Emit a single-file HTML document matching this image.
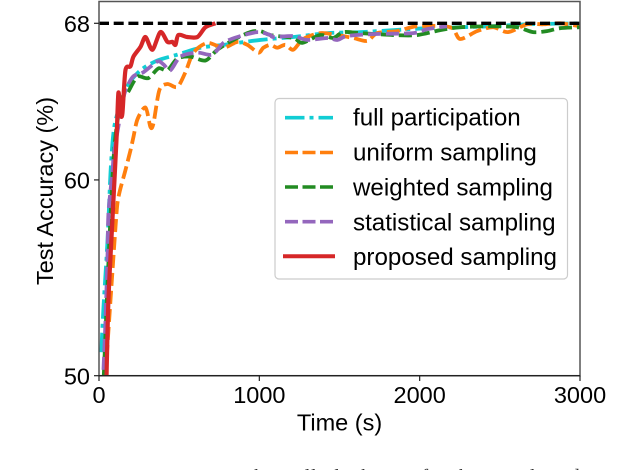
<!DOCTYPE html>
<html lang="en">
<head>
<meta charset="utf-8">
<title>Test accuracy over time</title>
<style>
html,body{margin:0;padding:0;background:#fff;}
body{width:634px;height:470px;overflow:hidden;}
svg{display:block;font-family:"Liberation Sans",Arial,sans-serif;}
text{fill:#000;}
</style>
</head>
<body>
<svg id="chart" width="634" height="470" viewBox="0 0 634 470" xmlns="http://www.w3.org/2000/svg">
  <defs><clipPath id="plot-clip"><rect x="99" y="2" width="481" height="374"/></clipPath></defs>
  <g id="series-layer" clip-path="url(#plot-clip)"></g>
  <g id="axes-layer">
    <rect x="99" y="1.5" width="481" height="374.2" fill="none" stroke="#555" stroke-width="1.5"/>
    <line x1="99" x2="580" y1="375.7" y2="375.7" stroke="#222" stroke-width="1.3"/>
  </g>
  <text x="339.5" y="430.5" font-size="23.5" text-anchor="middle">Time (s)</text>
  <text transform="translate(53,191) rotate(-90)" font-size="23.5" text-anchor="middle">Test Accuracy (%)</text>
  <g>
    <rect x="275" y="98.5" width="292.5" height="180.5" rx="4" fill="#fff" fill-opacity="0.85" stroke="#ccc" stroke-width="1.2"/>
    <g>
      <line x1="285" x2="333" y1="117.7" y2="117.7" stroke="#12cdd4" stroke-width="3.6" stroke-dasharray="19.5 5 4 5"/>
      <text x="353" y="125.7" font-size="24.15">full participation</text>
    </g>
    <g>
      <line x1="285" x2="333" y1="152.5" y2="152.5" stroke="#ff7f0e" stroke-width="3.6" stroke-dasharray="13 4.5"/>
      <text x="353" y="160.7" font-size="24.15">uniform sampling</text>
    </g>
    <g>
      <line x1="285" x2="333" y1="187" y2="187" stroke="#228b22" stroke-width="3.6" stroke-dasharray="13 4.5"/>
      <text x="353" y="195.5" font-size="24.15">weighted sampling</text>
    </g>
    <g>
      <line x1="285" x2="333" y1="221.7" y2="221.7" stroke="#9467bd" stroke-width="3.6" stroke-dasharray="13 4.5"/>
      <text x="353" y="230.3" font-size="24.15">statistical sampling</text>
    </g>
    <g>
      <line x1="283" x2="335" y1="256.3" y2="256.3" stroke="#d62728" stroke-width="4"/>
      <text x="353" y="265" font-size="24.15">proposed sampling</text>
    </g>
  </g>
  <text x="0" y="483" font-size="20" style="fill:#333" font-family="Liberation Serif, serif" textLength="634">Fig. 4: Test accuracy versus the wall-clock time for the sampling designs</text>
</svg>
<script>
var xTicks = [0, 1000, 2000, 3000];
var yTicks = [50, 60, 68];
var referenceAccuracy = 68;

var fullTimes = [14,28,53,72,90,115,178,259,364,489,632,776,1006,1212,1424,1629,1835,2047,2252,2458,2670,3000];
var fullValues = [51.2,53.5,56.9,60.4,62.4,63.4,64.8,65.6,66.1,66.4,66.75,66.9,67.15,67.3,67.5,67.55,67.65,67.75,67.8,67.85,67.95,68];

var uniformTimes = [40,103,121,165,196,215,240,290,321,340,377,427,489,539,589,676,776,863,925,994,1025,1069,1112,1162,1212,1274,1380,1486,1586,1673,1735,1860,1984,2190,2252,2358,2458,2551,2670,2770,2875,3000];
var uniformValues = [50,57.6,59.1,60.5,61.5,62.2,63.1,63.7,62.7,62.9,64.6,64.9,64.75,65.5,66.5,67,66.75,67.05,66.9,66.5,66.75,66.9,66.75,66.9,66.65,67.2,67.5,67.4,67.25,67.1,67.5,67.6,67.85,67.8,67.2,67.6,67.8,67.55,67.95,67.95,68,67.85];

var weightedTimes = [30,60,90,115,150,178,215,246,308,371,427,489,570,664,738,838,944,1006,1069,1212,1268,1380,1461,1523,1629,1835,1984,2128,2252,2458,2607,2707,2794,2875,3000];
var weightedValues = [50,56,61,63,64.3,64.45,65,65.3,65.2,65.7,65.6,66.2,66.3,66.1,66.65,67.15,67.55,67.6,67.4,67.25,67,67.4,67.25,67.55,67.5,67.4,67.4,67.65,67.8,67.85,67.8,67.55,67.6,67.75,67.8];

var statisticalTimes = [28,40,53,59,84,96,153,178,215,277,364,402,445,508,614,707,776,863,988,1069,1087,1212,1299,1424,1486,1548,1710,1960,2047,2171];
var statisticalValues = [50.3,52.7,56.1,58.3,60.4,61.5,64.2,64.8,65.3,65.5,66.05,65.9,65.6,66.3,66.5,66.4,67,67.3,67.55,67.4,67.3,67.35,67.15,67.25,67.15,67.35,67.45,67.5,67.7,67.85];

var proposedTimes = [47,59,84,109,121,134,146,165,196,215,259,290,333,383,427,458,477,495,551,614,664,726];
var proposedValues = [50,53.9,58,62.05,64.45,63.4,63.4,65.6,65.8,66.3,66.8,67.3,66.65,67.55,67.05,67.05,66.9,67.4,67.3,67.3,67.8,68];

var NS = 'http://www.w3.org/2000/svg';
function xScale(t) { return 99 + (t / 3000) * 481; }
function yScale(v) { return 375.7 - ((v - 50) / 18) * 352.4; }

function smoothPath(times, values) {
  var pts = times.map(function (t, i) { return [xScale(t), yScale(values[i])]; });
  var d = 'M' + pts[0][0].toFixed(2) + ' ' + pts[0][1].toFixed(2);
  var k = 0.14;
  for (var i = 0; i < pts.length - 1; i++) {
    var p0 = pts[Math.max(i - 1, 0)];
    var p1 = pts[i];
    var p2 = pts[i + 1];
    var p3 = pts[Math.min(i + 2, pts.length - 1)];
    d += 'C' + (p1[0] + (p2[0] - p0[0]) * k).toFixed(2) + ' ' + (p1[1] + (p2[1] - p0[1]) * k).toFixed(2) +
         ' ' + (p2[0] - (p3[0] - p1[0]) * k).toFixed(2) + ' ' + (p2[1] - (p3[1] - p1[1]) * k).toFixed(2) +
         ' ' + p2[0].toFixed(2) + ' ' + p2[1].toFixed(2);
  }
  return d;
}

var seriesLayer = document.getElementById('series-layer');
function addSeries(name, times, values, color, width, dash) {
  var el = document.createElementNS(NS, 'path');
  
  
  el.setAttribute('d', smoothPath(times, values));
  el.setAttribute('fill', 'none');
  el.setAttribute('stroke', color);
  el.setAttribute('stroke-width', width);
  el.setAttribute('stroke-linejoin', 'round');
  if (dash) { el.setAttribute('stroke-dasharray', dash); }
  seriesLayer.appendChild(el);
}
addSeries('series-full-participation', fullTimes, fullValues, '#12cdd4', 3.8, '19.5 5 4 5');
addSeries('series-uniform-sampling', uniformTimes, uniformValues, '#ff7f0e', 3.8, '13 5');
addSeries('series-weighted-sampling', weightedTimes, weightedValues, '#228b22', 3.8, '13 5');
addSeries('series-statistical-sampling', statisticalTimes, statisticalValues, '#9467bd', 3.8, '13 5');
addSeries('series-proposed-sampling', proposedTimes, proposedValues, '#d62728', 4.2, '');

var refLine = document.createElementNS(NS, 'line');


refLine.setAttribute('x1', xScale(0));
refLine.setAttribute('x2', xScale(3000));
refLine.setAttribute('y1', yScale(referenceAccuracy));
refLine.setAttribute('y2', yScale(referenceAccuracy));
refLine.setAttribute('stroke', '#000');
refLine.setAttribute('stroke-width', '3.4');
refLine.setAttribute('stroke-dasharray', '10 4.7');
seriesLayer.appendChild(refLine);

var axesLayer = document.getElementById('axes-layer');
xTicks.forEach(function (t) {
  var tick = document.createElementNS(NS, 'line');
  
  
  tick.setAttribute('x1', xScale(t));
  tick.setAttribute('x2', xScale(t));
  tick.setAttribute('y1', 375.7);
  tick.setAttribute('y2', 381);
  tick.setAttribute('stroke', '#222');
  tick.setAttribute('stroke-width', '1.2');
  axesLayer.appendChild(tick);
  var label = document.createElementNS(NS, 'text');
  
  
  label.setAttribute('x', xScale(t));
  label.setAttribute('y', 403);
  label.setAttribute('font-size', '23.5');
  label.setAttribute('text-anchor', 'middle');
  label.textContent = t;
  axesLayer.appendChild(label);
});
yTicks.forEach(function (v) {
  var tick = document.createElementNS(NS, 'line');
  
  
  tick.setAttribute('x1', 94);
  tick.setAttribute('x2', 99);
  tick.setAttribute('y1', yScale(v));
  tick.setAttribute('y2', yScale(v));
  tick.setAttribute('stroke', '#222');
  tick.setAttribute('stroke-width', '1.2');
  axesLayer.appendChild(tick);
  var label = document.createElementNS(NS, 'text');
  
  
  label.setAttribute('x', 90);
  label.setAttribute('y', yScale(v) + 8.6);
  label.setAttribute('font-size', '23.5');
  label.setAttribute('text-anchor', 'end');
  label.textContent = v;
  axesLayer.appendChild(label);
});
</script>
</body>
</html>
